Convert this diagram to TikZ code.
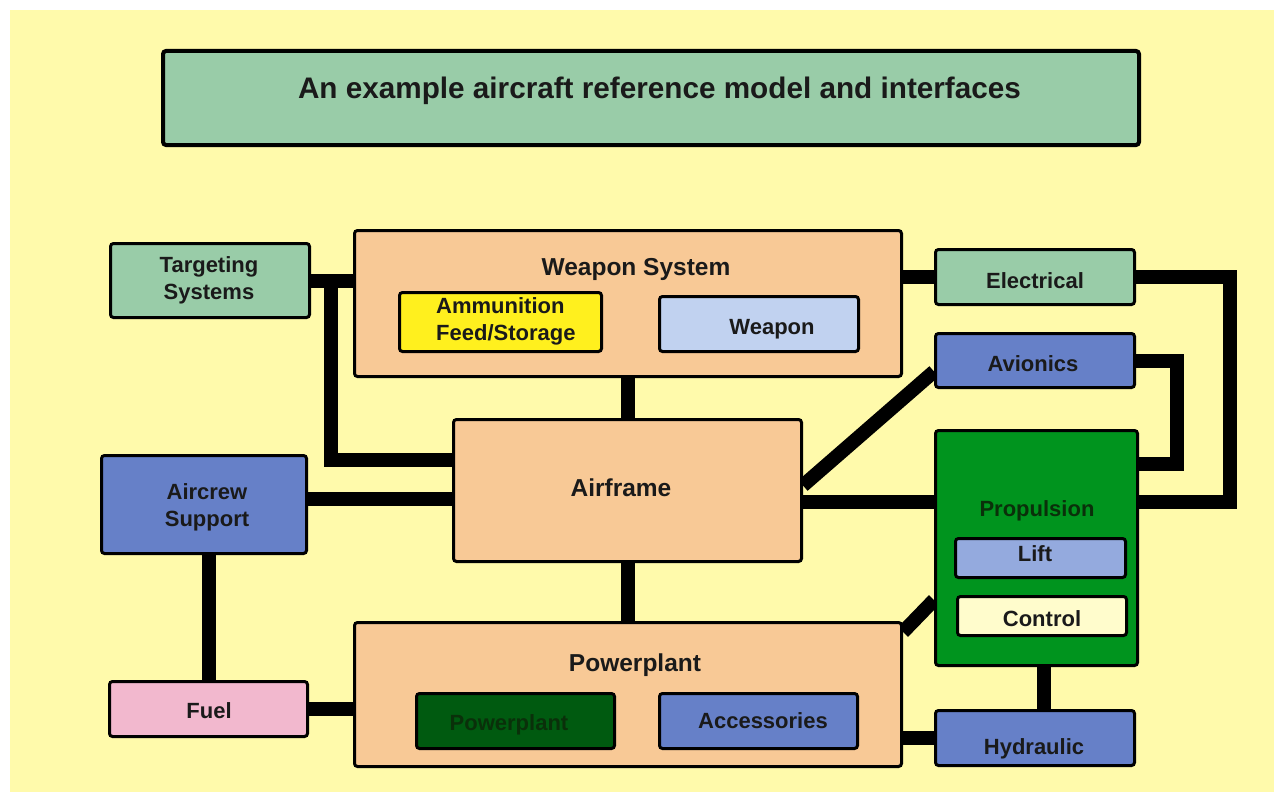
\documentclass[tikz,border=0pt]{standalone}
\usepackage{fontspec}
\setmainfont{Liberation Sans}
\usetikzlibrary{backgrounds}
\definecolor{bgyellow}{HTML}{FFFAAB}
\definecolor{paleg}{HTML}{99CCA8}
\definecolor{peach}{HTML}{F8C996}
\definecolor{ammoy}{HTML}{FFF01E}
\definecolor{lblue}{HTML}{C1D2F0}
\definecolor{mblue}{HTML}{6680C8}
\definecolor{propg}{HTML}{00941E}
\definecolor{liftb}{HTML}{94AADE}
\definecolor{ctrly}{HTML}{FFFCCC}
\definecolor{fuelp}{HTML}{F2B8CE}
\definecolor{darkg}{HTML}{005A10}
\definecolor{txtc}{HTML}{1A1A1A}
\definecolor{txtdg}{HTML}{0A300A}
\begin{document}
\begin{tikzpicture}[x=1pt,y=-1pt,
  box/.style={draw=black, line width=3pt, rounded corners=3pt, inner sep=0pt},
  conn/.style={draw=black, line width=14pt},
  txt/.style={font=\bfseries\fontsize{22}{27}\selectfont, text=txtc, inner sep=0pt, align=center},
  hdr/.style={font=\bfseries\fontsize{24.5}{29}\selectfont, text=txtc, inner sep=0pt}]
\useasboundingbox (0,0) rectangle (1274,792);
% boxes
\node[box, line width=4pt, fill=paleg, minimum width=976pt, minimum height=94pt] (title) at (651,98) {};
\node[box, fill=paleg, minimum width=199pt, minimum height=74pt] (targ) at (210,280.5) {};
\node[box, fill=peach, minimum width=547pt, minimum height=146pt] (ws) at (628,303.5) {};
\node[box, fill=ammoy, minimum width=202pt, minimum height=59pt] (ammo) at (500.5,322) {};
\node[box, fill=lblue, minimum width=199pt, minimum height=55pt] (weap) at (759,324) {};
\node[box, fill=paleg, minimum width=199pt, minimum height=55pt] (elec) at (1035,277) {};
\node[box, fill=mblue, minimum width=199pt, minimum height=54pt] (avion) at (1035,360.5) {};
\node[box, fill=propg, minimum width=202pt, minimum height=235pt] (prop) at (1036.5,548) {};
\node[box, fill=liftb, minimum width=170pt, minimum height=39pt] (lift) at (1040.5,558) {};
\node[box, fill=ctrly, minimum width=169pt, minimum height=39pt] (ctrl) at (1042,616) {};
\node[box, fill=mblue, minimum width=199pt, minimum height=55pt] (hyd) at (1035,738) {};
\node[box, fill=peach, minimum width=348pt, minimum height=142pt] (af) at (627.5,490.5) {};
\node[box, fill=mblue, minimum width=205pt, minimum height=98pt] (crew) at (204,504.5) {};
\node[box, fill=fuelp, minimum width=198pt, minimum height=55pt] (fuel) at (208.5,709) {};
\node[box, fill=peach, minimum width=547pt, minimum height=144pt] (pp) at (628,694.5) {};
\node[box, fill=darkg, minimum width=198pt, minimum height=55pt] (ppin) at (515.5,721) {};
\node[box, fill=mblue, minimum width=198pt, minimum height=55pt] (acc) at (758.5,721) {};
% texts
\node[font=\bfseries\fontsize{29.7}{35}\selectfont, text=txtc, inner sep=0pt, anchor=base] (title-t) at (659.5,99) {An example aircraft reference model and interfaces};
\node[txt] (targ-t) at (209,280) {Targeting\\Systems};
\node[hdr, anchor=base] (ws-t) at (636,275) {Weapon System};
\node[txt, align=left, anchor=west] (ammo-t) at (436,321) {Ammunition\\Feed/Storage};
\node[txt, anchor=base] (weap-t) at (772,334) {Weapon};
\node[txt, anchor=base] (elec-t) at (1035,288) {Electrical};
\node[txt, anchor=base] (avion-t) at (1033,371) {Avionics};
\node[hdr, anchor=base] (af-t) at (621,496) {Airframe};
\node[txt] (crew-t) at (207,507) {Aircrew\\Support};
\node[txt, anchor=base, text=txtdg] (prop-t) at (1037,516) {Propulsion};
\node[txt, anchor=base] (lift-t) at (1035,561) {Lift};
\node[txt, anchor=base] (ctrl-t) at (1042,626) {Control};
\node[hdr, anchor=base] (pp-t) at (635,671) {Powerplant};
\node[txt, anchor=base, text=txtdg] (ppin-t) at (509,730) {Powerplant};
\node[txt, anchor=base] (acc-t) at (763,728) {Accessories};
\node[txt, anchor=base] (fuel-t) at (209,718) {Fuel};
\node[txt, anchor=base] (hyd-t) at (1034,754) {Hydraulic};
% background and connectors
\begin{scope}[on background layer]
\fill[white] (0,0) rectangle (1274,792);
\fill[bgyellow] (10,10) rectangle (1274,792);
\coordinate (af-l1) at ([yshift=30.5pt]af.west);
\coordinate (af-l2) at ([yshift=-8.5pt]af.west);
\coordinate (af-r1) at ([yshift=5pt]af.east);
\coordinate (af-r2) at ([yshift=-11.5pt]af.east);
\coordinate (prop-r1) at ([yshift=46pt]prop.east);
\coordinate (prop-r2) at ([yshift=84pt]prop.east);
\coordinate (prop-l1) at ([yshift=-52pt]prop.west);
\coordinate (av-l1) at ([yshift=-11pt]avion.west);
\coordinate (pp-c) at ([yshift=-11pt]pp.north east);
\coordinate (hyd-n) at ([xshift=9pt]hyd.north);
\draw[conn] (targ.east) -- (targ.east -| ws.west);
\draw[conn] (targ.east) -- ++(20,0) |- (af-l1);
\draw[conn] (af-l2) -- (af-l2 -| crew.east);
\draw[conn] (ws.south) -- (ws.south |- af.north);
\draw[conn] (af.south) -- (af.south |- pp.north);
\draw[conn] (fuel.north) -- (fuel.north |- crew.south);
\draw[conn] (fuel.east) -- (fuel.east -| pp.west);
\draw[conn] (ppin.east) -- (acc.west);
\draw[conn] (hyd.west) -- (hyd.west -| pp.east);
\draw[conn] (hyd-n) -- (hyd-n |- prop.south);
\draw[conn] (pp-c) -- (prop-l1);
\draw[conn] (elec.west) -- (elec.west -| ws.east);
\draw[conn] (elec.east) -- ++(94,0) |- (prop-r1);
\draw[conn] (avion.east) -- ++(41,0) |- (prop-r2);
\draw[conn] (av-l1) -- (af-r1);
\draw[conn] (af-r2) -- (af-r2 -| prop.west);
\end{scope}
\end{tikzpicture}
\end{document}
